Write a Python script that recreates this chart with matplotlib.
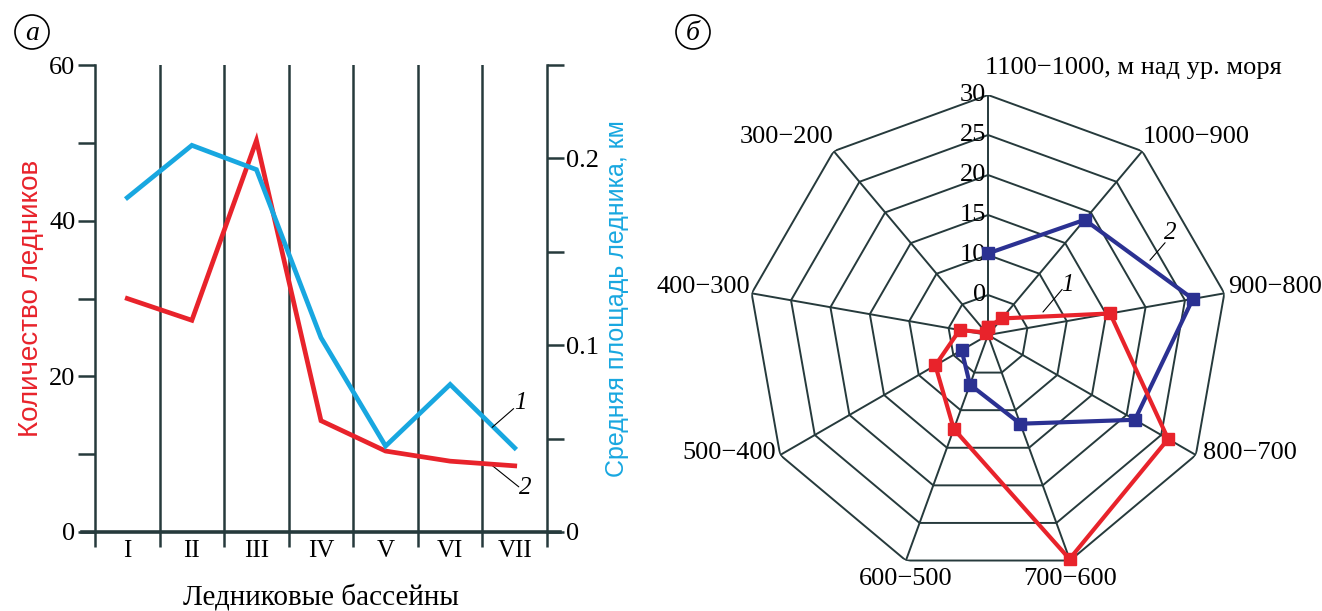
import matplotlib.pyplot as plt
import numpy as np
from matplotlib.patches import Circle

plt.rcParams['font.family'] = ['Liberation Serif', 'DejaVu Serif']

# --- (а) количество ледников и средняя площадь по бассейнам ---
basins = ['I', 'II', 'III', 'IV', 'V', 'VI', 'VII']
glacier_count = [30, 27.2, 50.3, 14.3, 10.4, 9.1, 8.5]
mean_area = [0.179, 0.207, 0.194, 0.104, 0.046, 0.079, 0.045]

# --- (б) распределение по высотным поясам ---
belts = ['1100−1000, м над ур. моря', '1000−900', '900−800', '800−700',
         '700−600', '600−500', '500−400', '400−300', '300−200']
belt_red = [1.0, 2.7, 15.5, 26.0, 29.8, 12.5, 7.6, 3.6, 0.4]
belt_blue = [10.2, 18.8, 26.0, 21.2, 11.8, 6.6, 3.8]
r_ticks = [5, 10, 15, 20, 25, 30]
r_tick_labels = ['0', '10', '15', '20', '25', '30']

RED = '#e8232b'
CYAN = '#18a7e0'
NAVY = '#2b3192'
GRID = '#263a3c'
FS = 18
SANS = ['Liberation Sans', 'DejaVu Sans']


def leader(relpos):
    # тонкая выноска от подписи к кривой
    return dict(arrowstyle='-', lw=0.8, color='k', patchA=None,
                shrinkA=0, shrinkB=0, relpos=relpos)


fig = plt.figure(figsize=(13.22, 6.11), dpi=100)

# ---------------- левый график ----------------
ax = fig.add_axes([95 / 1322, 1 - 532 / 611, 452 / 1322, 467 / 611])
x = np.arange(len(basins)) + 0.5
ax.plot(x, glacier_count, color=RED, lw=3.4, solid_joinstyle='miter', zorder=4)
ax.set_xlim(0, len(basins))
ax.set_ylim(0, 60)
for e in range(1, len(basins)):
    ax.axvline(e, color=GRID, lw=1.8, zorder=1)

for s in ['top', 'right']:
    ax.spines[s].set_visible(False)
ax.spines['left'].set_color(GRID)
ax.spines['left'].set_linewidth(1.8)
ax.spines['bottom'].set_visible(False)
# нулевая линия с выносом влево и вправо
ax.plot([-0.2, 7.2], [0, 0], color=GRID, lw=2.6, clip_on=False, zorder=3)

ax.set_xticks(range(len(basins) + 1))
ax.set_xticklabels([])
ax.set_xticks(x, minor=True)
ax.set_xticklabels(basins, minor=True, fontsize=FS)
ax.tick_params(axis='x', which='major', direction='out', length=11, width=1.8,
               color=GRID)
ax.tick_params(axis='x', which='minor', length=0, pad=6)
ax.set_yticks([0, 20, 40, 60])
ax.set_yticks([10, 30, 50], minor=True)
ax.tick_params(axis='y', which='both', direction='out', length=12, width=1.8,
               color=GRID, labelsize=19, pad=2)
ax.set_ylabel('Количество ледников', color=RED, fontsize=20, family=SANS,
              labelpad=4)
ax.set_xlabel('Ледниковые бассейны', fontsize=21, labelpad=16)

ax2 = ax.twinx()
ax2.plot(x, mean_area, color=CYAN, lw=3.4, solid_joinstyle='miter', zorder=3)
ax2.set_ylim(0, 0.25)
for s in ['top', 'left', 'bottom']:
    ax2.spines[s].set_visible(False)
ax2.spines['right'].set_color(GRID)
ax2.spines['right'].set_linewidth(1.8)
ax2.set_yticks([0, 0.1, 0.2])
ax2.set_yticklabels(['0', '0.1', '0.2'])
ax2.set_yticks([0.05, 0.15, 0.25], minor=True)
ax2.tick_params(axis='y', which='both', direction='out', length=12, width=1.8,
                color=GRID, labelsize=19, pad=2)
ax2.set_ylabel('Средняя площадь ледника, км', color=CYAN, fontsize=18,
               family=SANS, labelpad=4)

# номера кривых
ax2.annotate('1', xy=(6.15, 0.056), xytext=(6.58, 0.069), fontsize=FS,
             style='italic', ha='center', va='center',
             arrowprops=leader((0.0, 0.25)))
ax.annotate('2', xy=(6.12, 8.75), xytext=(6.66, 5.66), fontsize=FS,
            style='italic', ha='center', va='center',
            arrowprops=leader((0.0, 0.55)))

# ---------------- лепестковая диаграмма ----------------
n = len(belts)
theta = np.pi / 2 - np.arange(n) * 2 * np.pi / n
pax = fig.add_axes([748 / 1322, 1 - 575 / 611, 480 / 1322, 480 / 611],
                   projection='polar')
pax.set_ylim(0, 30)
pax.grid(False)
pax.set_xticks([])
pax.set_yticks([])
pax.spines['polar'].set_visible(False)
pax.patch.set_visible(False)

ring_theta = np.append(theta, theta[0])
for r in r_ticks:
    pax.plot(ring_theta, [r] * (n + 1), color=GRID, lw=1.4, zorder=1)
for t in theta:
    pax.plot([t, t], [0, 30], color=GRID, lw=1.4, zorder=1)

for r, lab in zip(r_ticks, r_tick_labels):
    pax.annotate(lab, xy=(np.pi / 2, r), xytext=(-2, 0),
                 textcoords='offset pixels', ha='right', va='center',
                 fontsize=19, zorder=2)

# подписи высотных поясов
label_pos = [((-3, 27), 'left'), ((0, 14), 'left'), ((4, 6), 'left'),
             ((7, 2), 'left'), ((0, -18), 'center'), ((0, -18), 'center'),
             ((-4, 2), 'right'), ((-2, 6), 'right'), ((0, 14), 'right')]
for t, lab, (off, ha) in zip(theta, belts, label_pos):
    pax.annotate(lab, xy=(t, 30), xytext=off, textcoords='offset pixels',
                 ha=ha, va='center', fontsize=19, annotation_clip=False)

pax.plot(np.append(theta, theta[0]), belt_red + belt_red[:1], color=RED,
         lw=3, marker='s', ms=9, zorder=4, clip_on=False)
pax.plot(theta[:len(belt_blue)], belt_blue, color=NAVY, lw=3, marker='s',
         ms=9, zorder=3, clip_on=False)

pax.annotate('1', xy=(np.deg2rad(22.7), 7.45), xytext=(np.deg2rad(32.3), 11.7),
             fontsize=FS, style='italic', ha='center', va='center',
             arrowprops=leader((0.1, 0.3)))
pax.annotate('2', xy=(np.deg2rad(24.8), 22.3), xytext=(np.deg2rad(29.3), 26.1),
             fontsize=FS, style='italic', ha='center', va='center',
             arrowprops=leader((0.1, 0.05)))

# буквенные обозначения панелей
for cx, letter in [(32, 'а'), (693, 'б')]:
    fig.patches.append(Circle((cx, 611 - 32), 17, lw=1.2, edgecolor='k',
                              facecolor='none', transform=None))
    fig.text(cx / 1322, 1 - 33 / 611, letter, fontsize=20, style='italic',
             ha='center', va='center')

fig.savefig('out.png', dpi=100)
